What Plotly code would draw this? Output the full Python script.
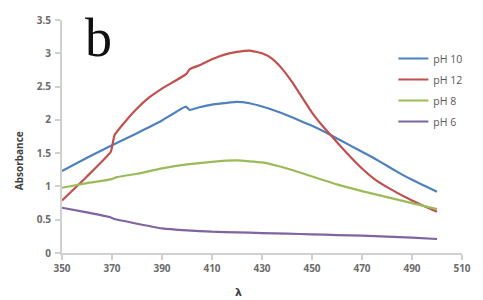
import plotly.graph_objects as go

wl_ph10 = [350, 360, 370, 380, 390, 399.5, 401, 405, 410, 415, 420, 425, 430, 435, 440, 445, 450, 455, 460, 465, 470, 475, 480, 485, 490, 495, 500]
abs_ph10 = [1.23, 1.43, 1.62, 1.80, 1.99, 2.20, 2.15, 2.19, 2.23, 2.25, 2.27, 2.25, 2.20, 2.14, 2.07, 1.99, 1.91, 1.82, 1.72, 1.62, 1.52, 1.42, 1.31, 1.20, 1.10, 1.01, 0.92]

wl_ph12 = [350, 360, 369.5, 371, 375, 380, 385, 390, 395, 399, 400, 401, 405, 410, 415, 420, 425, 430, 434, 438, 442, 446, 450, 454, 458, 462, 466, 470, 475, 480, 490, 500]
abs_ph12 = [0.79, 1.15, 1.52, 1.77, 1.96, 2.17, 2.34, 2.47, 2.58, 2.67, 2.70, 2.76, 2.82, 2.91, 2.98, 3.02, 3.04, 3.00, 2.92, 2.77, 2.57, 2.34, 2.11, 1.92, 1.75, 1.58, 1.42, 1.27, 1.11, 0.99, 0.79, 0.62]

wl_ph8 = [350, 360, 370, 372, 380, 390, 400, 410, 420, 430, 440, 450, 460, 470, 480, 490, 500]
abs_ph8 = [0.98, 1.05, 1.11, 1.14, 1.19, 1.27, 1.33, 1.37, 1.39, 1.36, 1.27, 1.15, 1.03, 0.93, 0.84, 0.75, 0.66]

wl_ph6 = [350, 360, 369, 371, 380, 390, 400, 410, 420, 430, 440, 450, 460, 470, 480, 490, 500]
abs_ph6 = [0.68, 0.61, 0.54, 0.51, 0.44, 0.37, 0.34, 0.32, 0.31, 0.30, 0.29, 0.28, 0.27, 0.26, 0.245, 0.23, 0.21]

series = [
    ("pH 10", wl_ph10, abs_ph10, "#4F81BD"),
    ("pH 12", wl_ph12, abs_ph12, "#C0504D"),
    ("pH 8", wl_ph8, abs_ph8, "#9BBB59"),
    ("pH 6", wl_ph6, abs_ph6, "#8064A2"),
]

x_ticks = [350, 370, 390, 410, 430, 450, 470, 490, 510]
y_ticks = [0, 0.5, 1, 1.5, 2, 2.5, 3, 3.5]

fig = go.Figure()
for i, (name, x, y, c) in enumerate(series):
    fig.add_trace(go.Scatter(x=x, y=y, mode="lines", name=name,
                             line=dict(color=c, width=2.2, shape="spline", smoothing=0.4),
                             legendgroup=str(i)))

axis_font = dict(family="Open Sans, Arial, sans-serif", size=10, color="#6b6b6b", weight="bold")
fig.update_layout(
    width=483, height=300,
    margin=dict(l=62, r=13, t=19, b=47),
    paper_bgcolor="white", plot_bgcolor="white",
    showlegend=True,
    legend=dict(x=(400 - 62) / 408, y=0.897, xanchor="left", yanchor="top",
                font=dict(family="Open Sans, Arial, sans-serif", size=10.5, color="#595959"),
                bgcolor="rgba(0,0,0,0)", tracegroupgap=2, traceorder="grouped"),
    xaxis=dict(range=[350, 510], tickvals=x_ticks, showgrid=False, zeroline=False,
               showline=True, linecolor="#D0D0D0", linewidth=2,
               ticks="outside", ticklen=5, tickcolor="#D0D0D0", tickwidth=1.5,
               tickfont=axis_font),
    yaxis=dict(range=[0, 3.5], tickvals=y_ticks, showgrid=False, zeroline=False,
               showline=True, linecolor="#D0D0D0", linewidth=2,
               ticks="outside", ticklen=5, tickcolor="#D0D0D0", tickwidth=1.5,
               ticklabelstandoff=2, tickfont=axis_font),
    annotations=[
        dict(text="b", x=(83 - 62) / 408, y=(253 - 5) / 234, xref="paper", yref="paper",
             showarrow=False, xanchor="left", yanchor="top",
             font=dict(family="Liberation Serif, Times New Roman, serif", size=54, color="#111111")),
        dict(text="<b>Absorbance</b>", x=-(62 - 19) / 408, y=(253 - 160) / 234,
             xref="paper", yref="paper", showarrow=False, textangle=-90,
             xanchor="center", yanchor="middle",
             font=dict(family="Open Sans, Arial, sans-serif", size=10, color="#404040")),
        dict(text="<b>λ</b>", x=(242 - 62) / 408, y=0, yshift=-39,
             xref="paper", yref="paper", showarrow=False,
             xanchor="center", yanchor="middle",
             font=dict(family="DejaVu Sans, sans-serif", size=11, color="#404040")),
    ],
)

fig.write_html("out.html", config={"displayModeBar": False},
               post_script="document.body.style.margin='0px';document.body.style.padding='0px';")
